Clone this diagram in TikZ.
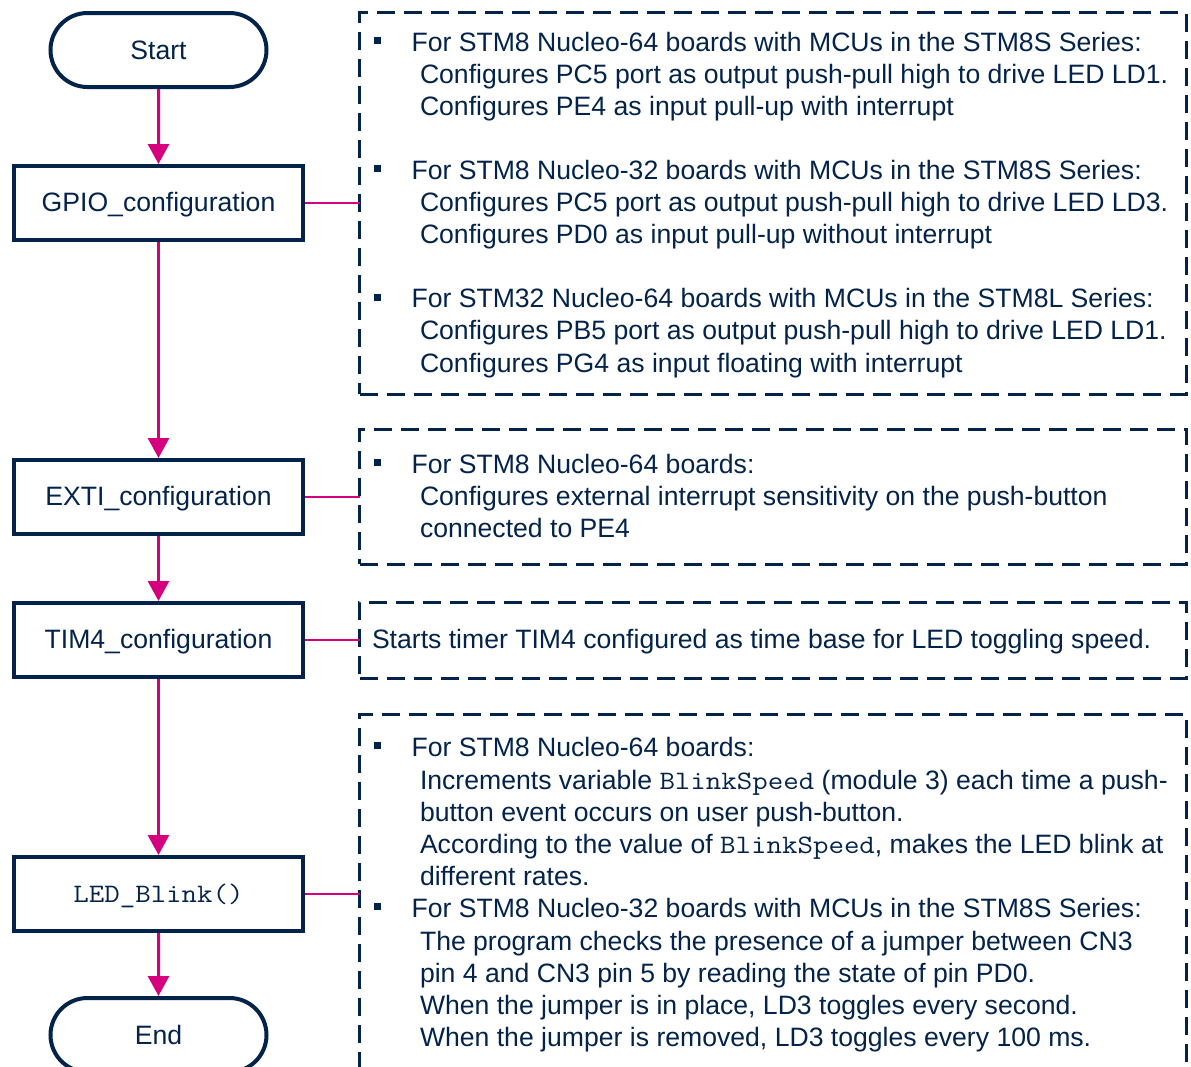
\documentclass[tikz,border=0pt]{standalone}
\usepackage{fontspec}
\setmainfont{Liberation Sans}
\newfontfamily\monof[FakeStretch=1.13]{Latin Modern Mono}
\usetikzlibrary{arrows.meta,shapes.misc}
\definecolor{navy}{HTML}{03234B}
\definecolor{stpink}{HTML}{D4007D}
\newcommand{\mono}[1]{{\monof #1}}
\newcommand{\bodyf}{\fontsize{26.6bp}{32bp}\selectfont}
\begin{document}
\begin{tikzpicture}[x=1bp,y=-1bp,
  term/.style={rounded rectangle, draw=navy, line width=4bp, minimum width=216bp, minimum height=74bp, inner sep=0pt, outer sep=2bp, text=navy, font=\bodyf},
  proc/.style={rectangle, draw=navy, line width=4bp, minimum width=289bp, minimum height=74bp, inner sep=0pt, outer sep=2bp, text=navy, font=\bodyf, text height=19bp, text depth=3bp},
  dbox/.style={rectangle, draw=navy, line width=3bp, dash pattern=on 18bp off 9bp, minimum width=826bp, inner sep=0pt, outer sep=0pt},
  flow/.style={draw=stpink, line width=3bp, -{Triangle[length=20bp,width=21bp]}},
  conn/.style={draw=stpink, line width=2.2bp},
  txt/.style={anchor=base west, inner sep=0pt, outer sep=0pt, text=navy, font=\bodyf},
  bul/.style={rectangle, fill=navy, minimum size=7bp, inner sep=0pt, outer sep=0pt}
]
\useasboundingbox (0,0) rectangle (1191,1067);
\clip (0,0) rectangle (1191,1067);

% flow nodes
\node[term] (start) at (158.5,50) {Start};
\node[proc] (gpio) at (158.5,203) {GPIO\_configuration};
\node[proc] (exti) at (158.5,497) {EXTI\_configuration};
\node[proc] (tim) at (158.5,640) {TIM4\_configuration};
\node[proc] (led) at (158.5,894) {\mono{LED\_Blink()}};
\node[term] (end) at (158.5,1035) {End};

% dashed boxes
\node[dbox, minimum height=381bp] (d1) at (773,203.5) {};
\node[dbox, minimum height=135bp] (d2) at (773,496.5) {};
\node[dbox, minimum height=76bp] (d3) at (773,640) {};
\node[dbox, minimum height=386bp] (d4) at (773,907) {};

% arrows
\draw[flow] (start) -- (gpio);
\draw[flow] (gpio) -- (exti);
\draw[flow] (exti) -- (tim);
\draw[flow] (tim) -- (led);
\draw[flow] (led) -- (end);

% connectors
\draw[conn] (gpio.east) -- (gpio.east -| d1.west);
\draw[conn] (exti.east) -- (exti.east -| d2.west);
\draw[conn] (tim.east) -- (tim.east -| d3.west);
\draw[conn] (led.east) -- (led.east -| d4.west);

% box 1
\node[bul] (b11) at (377.5,40.3) {};
\node[txt] (t11) at (411.5,51) {For STM8 Nucleo-64 boards with MCUs in the STM8S Series:};
\node[txt] (t12) at (420,83.1) {Configures PC5 port as output push-pull high to drive LED LD1.};
\node[txt] (t13) at (420,115.2) {Configures PE4 as input pull-up with interrupt};
\node[bul] (b12) at (377.5,168.7) {};
\node[txt] (t15) at (411.5,179.4) {For STM8 Nucleo-32 boards with MCUs in the STM8S Series:};
\node[txt] (t16) at (420,211.5) {Configures PC5 port as output push-pull high to drive LED LD3.};
\node[txt] (t17) at (420,243.6) {Configures PD0 as input pull-up without interrupt};
\node[bul] (b13) at (377.5,297.1) {};
\node[txt] (t19) at (411.5,307.8) {For STM32 Nucleo-64 boards with MCUs in the STM8L Series:};
\node[txt] (t110) at (420,339.9) {Configures PB5 port as output push-pull high to drive LED LD1.};
\node[txt] (t111) at (420,372) {Configures PG4 as input floating with interrupt};

% box 2
\node[bul] (b21) at (377.5,462.3) {};
\node[txt] (t21) at (411.5,473) {For STM8 Nucleo-64 boards:};
\node[txt] (t22) at (420,505) {Configures external interrupt sensitivity on the push-button};
\node[txt] (t23) at (420,537) {connected to PE4};

% box 3
\node[txt] (t31) at (372,648) {Starts timer TIM4 configured as time base for LED toggling speed.};

% box 4
\node[bul] (b41) at (377.5,745.8) {};
\node[txt] (t41) at (411.5,756.5) {For STM8 Nucleo-64 boards:};
\node[txt] (t42) at (420,789.5) {Increments variable \mono{BlinkSpeed} (module 3) each time a push-};
\node[txt] (t43) at (420,821.5) {button event occurs on user push-button.};
\node[txt] (t44) at (420,853.5) {According to the value of \mono{BlinkSpeed}, makes the LED blink at};
\node[txt] (t45) at (420,885.5) {different rates.};
\node[bul] (b42) at (377.5,906.8) {};
\node[txt] (t46) at (411.5,917.5) {For STM8 Nucleo-32 boards with MCUs in the STM8S Series:};
\node[txt] (t47) at (420,950.5) {The program checks the presence of a jumper between CN3};
\node[txt] (t48) at (420,982.5) {pin 4 and CN3 pin 5 by reading the state of pin PD0.};
\node[txt] (t49) at (420,1014.5) {When the jumper is in place, LD3 toggles every second.};
\node[txt] (t410) at (420,1046.5) {When the jumper is removed, LD3 toggles every 100 ms.};
\end{tikzpicture}
\end{document}
